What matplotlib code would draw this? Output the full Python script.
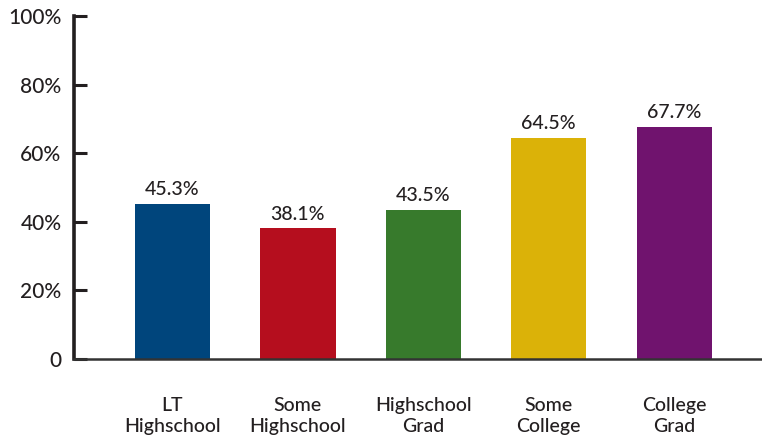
import matplotlib
matplotlib.use("Agg")
import matplotlib.pyplot as plt
import numpy as np

# Share of each education group (percent)
categories = ["LT\nHighschool", "Some\nHighschool", "Highschool\nGrad", "Some\nCollege", "College\nGrad"]
values = [45.3, 38.1, 43.5, 64.5, 67.7]
colors = ["#00457C", "#B50E1E", "#377A2C", "#DBB208", "#70136E"]
y_ticks = [0, 20, 40, 60, 80, 100]
y_tick_labels = ["0", "20%", "40%", "60%", "80%", "100%"]

TEXT = "#231F20"
plt.rcParams["font.family"] = ["Lato", "DejaVu Sans"]
plt.rcParams["font.weight"] = "medium"


def plot_bars() -> None:
    fig = plt.figure(figsize=(7.62, 4.40), dpi=100)
    ax = fig.add_axes([74 / 762, 1 - 359 / 440, 1 - 74 / 762, 343 / 440])

    x = np.arange(len(categories))
    bars = ax.bar(x, values, width=0.6, color=colors, zorder=2)

    # Value labels above each bar
    for rect, v in zip(bars, values):
        ax.annotate(f"{v:.1f}%", (rect.get_x() + rect.get_width() / 2, v),
                    xytext=(0, 4), textcoords="offset points",
                    ha="center", va="bottom", fontsize=14, color=TEXT)

    ax.set_xlim(-0.785, 4.70)
    ax.set_ylim(0, 100)
    ax.set_yticks(y_ticks)
    ax.set_yticklabels(y_tick_labels, fontsize=15, color=TEXT)
    ax.tick_params(axis="y", direction="in", length=9, width=2.2, pad=9, colors=TEXT)
    ax.set_xticks(x)
    ax.set_xticklabels(categories, fontsize=14, color=TEXT, linespacing=1.3)
    ax.tick_params(axis="x", length=0, pad=27)

    for side in ["top", "right"]:
        ax.spines[side].set_visible(False)
    ax.spines["left"].set_linewidth(2.6)
    ax.spines["left"].set_color(TEXT)
    ax.spines["bottom"].set_linewidth(1.8)
    ax.spines["bottom"].set_color("#333333")

    fig.savefig("out.png", dpi=100)


def main() -> None:
    plot_bars()


if __name__ == "__main__":
    main()
